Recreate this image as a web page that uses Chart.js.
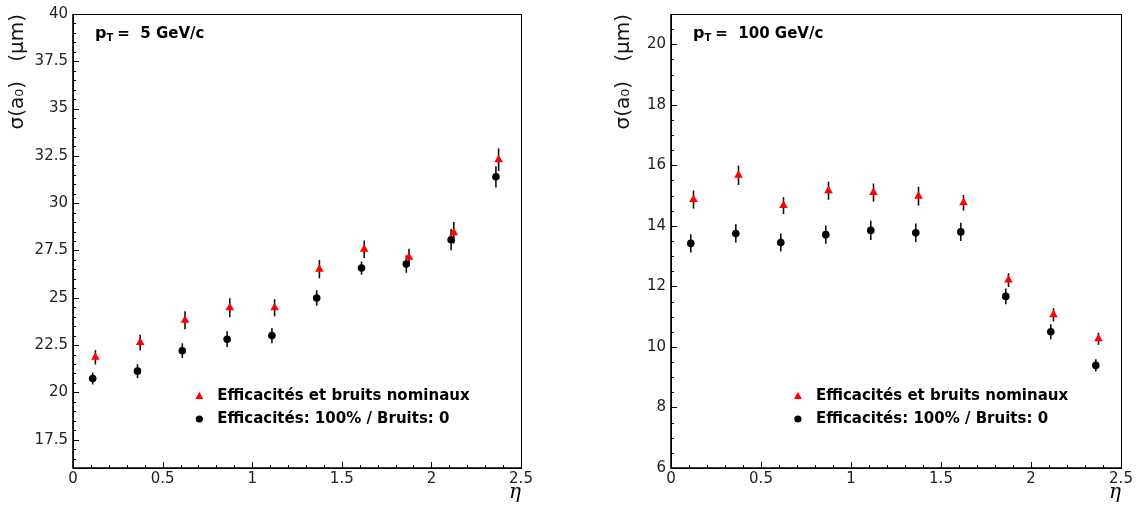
<!DOCTYPE html>
<html>
<head>
<meta charset="utf-8">
<script src="https://cdn.jsdelivr.net/npm/chart.js@4.4.0/dist/chart.umd.min.js"></script>
<style>
  html, body { margin: 0; padding: 0; background: #fff; }
  #wrap { position: relative; width: 1137px; height: 507px; }
  .box { position: absolute; top: 0; height: 507px; }
</style>
</head>
<body>
<div id="wrap">
  <div class="box" style="left:0;width:560px"><canvas id="c5"></canvas></div>
  <div class="box" style="left:596px;width:541px"><canvas id="c100"></canvas></div>
</div>
<script>
// pseudo-rapidité des points (les triangles sont légèrement décalés)
const etaRouge = [0.125, 0.375, 0.625, 0.875, 1.125, 1.375, 1.625, 1.875, 2.125, 2.375];
const etaNoir  = [0.11, 0.36, 0.61, 0.86, 1.11, 1.36, 1.61, 1.86, 2.11, 2.36];

// pT = 5 GeV/c
const sig5Rouge = [21.85, 22.63, 23.81, 24.47, 24.47, 26.51, 27.56, 27.14, 28.44, 32.30];
const err5Rouge = [0.38, 0.42, 0.47, 0.50, 0.45, 0.48, 0.46, 0.45, 0.57, 0.60];
const sig5Noir  = [20.73, 21.12, 22.20, 22.81, 23.00, 24.99, 26.57, 26.78, 28.07, 31.39];
const err5Noir  = [0.31, 0.37, 0.39, 0.42, 0.40, 0.41, 0.35, 0.46, 0.56, 0.56];

// pT = 100 GeV/c
const sig100Rouge = [14.87, 15.67, 14.67, 15.16, 15.10, 14.98, 14.76, 12.21, 11.06, 10.27];
const err100Rouge = [0.30, 0.32, 0.28, 0.30, 0.30, 0.31, 0.26, 0.23, 0.22, 0.20];
const sig100Noir  = [13.42, 13.75, 13.45, 13.71, 13.85, 13.77, 13.80, 11.67, 10.50, 9.39];
const err100Noir  = [0.30, 0.30, 0.30, 0.30, 0.32, 0.31, 0.30, 0.26, 0.25, 0.20];

// graduations
const ticksEta = [0, 0.5, 1, 1.5, 2, 2.5];
const ticks5   = [17.5, 20, 22.5, 25, 27.5, 30, 32.5, 35, 37.5, 40];
const ticks100 = [6, 8, 10, 12, 14, 16, 18, 20];

const legendeRouge = 'Efficacités et bruits nominaux';
const legendeNoir  = 'Efficacités: 100% / Bruits: 0';

const pts = (xs, ys) => xs.map((x, i) => ({ x, y: ys[i] }));

// barres d'erreur, cadre, petites graduations, étiquette pT et légende
const rootStyle = {
  id: 'rootStyle',
  beforeDatasetsDraw(chart) {
    const { ctx } = chart;
    const ys = chart.scales.y;
    ctx.save();
    ctx.strokeStyle = '#111';
    ctx.lineWidth = 1.6;
    chart.data.datasets.forEach((ds, i) => {
      const meta = chart.getDatasetMeta(i);
      ds.data.forEach((p, j) => {
        const px = meta.data[j].x;
        ctx.beginPath();
        ctx.moveTo(px, ys.getPixelForValue(p.y - ds.errs[j]));
        ctx.lineTo(px, ys.getPixelForValue(p.y + ds.errs[j]));
        ctx.stroke();
      });
    });
    ctx.restore();
  },
  afterDraw(chart, args, opts) {
    const { ctx, chartArea: a } = chart;
    const xs = chart.scales.x, ys = chart.scales.y;
    ctx.save();

    // cadre
    ctx.strokeStyle = '#000';
    ctx.lineWidth = 1;
    ctx.strokeRect(a.left + 0.5, a.top + 0.5, a.right - a.left, a.bottom - a.top);
    ctx.lineWidth = 1.6;
    ctx.beginPath();
    ctx.moveTo(a.left, a.top); ctx.lineTo(a.left, a.bottom); ctx.lineTo(a.right, a.bottom);
    ctx.stroke();

    // graduations vers l'intérieur
    ctx.lineWidth = 1;
    ctx.beginPath();
    for (let v = xs.min; v <= xs.max + 1e-9; v += opts.minorX) {
      const px = Math.round(xs.getPixelForValue(v)) + 0.5;
      const major = Math.abs(v / 0.5 - Math.round(v / 0.5)) < 1e-6;
      ctx.moveTo(px, a.bottom); ctx.lineTo(px, a.bottom - (major ? 6 : 3));
    }
    for (let v = ys.min; v <= ys.max + 1e-9; v += opts.minorY) {
      const py = Math.round(ys.getPixelForValue(v)) + 0.5;
      const major = Math.abs(v / opts.majorY - Math.round(v / opts.majorY)) < 1e-6;
      ctx.moveTo(a.left, py); ctx.lineTo(a.left + (major ? 6 : 3), py);
    }
    ctx.stroke();

    // étiquette pT
    ctx.fillStyle = '#000';
    ctx.textBaseline = 'alphabetic';
    let x = a.left + 22, y = a.top + 24;
    ctx.font = 'bold 16px "DejaVu Sans"';
    ctx.fillText('p', x, y);
    x += ctx.measureText('p').width;
    ctx.font = 'bold 10px "DejaVu Sans"';
    ctx.fillText('T', x, y + 3);
    x += ctx.measureText('T').width + 4;
    ctx.font = 'bold 15px "DejaVu Sans"';
    ctx.fillText('=  ' + opts.pt, x, y);

    // légende
    const lx = a.left + 0.282 * (a.right - a.left);
    const ly1 = 396, ly2 = 419;
    ctx.fillStyle = '#ff0000';
    ctx.beginPath();
    ctx.moveTo(lx, ly1 - 4); ctx.lineTo(lx + 4, ly1 + 3); ctx.lineTo(lx - 4, ly1 + 3);
    ctx.closePath(); ctx.fill();
    ctx.fillStyle = '#000';
    ctx.beginPath(); ctx.arc(lx, ly2, 3.6, 0, Math.PI * 2); ctx.fill();
    ctx.font = 'bold 15px "DejaVu Sans"';
    ctx.textBaseline = 'middle';
    ctx.fillText(legendeRouge, lx + 18, ly1);
    ctx.fillText(legendeNoir, lx + 18, ly2);
    ctx.restore();
  }
};

function makeChart(id, rouge, errRouge, noir, errNoir, yMin, yMax, yTicks, yw, titlePad, rightPad, extra) {
  return new Chart(document.getElementById(id), {
    type: 'scatter',
    data: {
      datasets: [
        { data: pts(etaRouge, rouge), errs: errRouge, pointStyle: 'triangle', pointRadius: 5,
          backgroundColor: '#ff0000', borderColor: '#ff0000', borderWidth: 0 },
        { data: pts(etaNoir, noir), errs: errNoir, pointStyle: 'circle', pointRadius: 3.8,
          backgroundColor: '#000', borderColor: '#000', borderWidth: 0 },
      ],
    },
    options: {
      responsive: true,
      maintainAspectRatio: false,
      animation: false,
      events: [],
      layout: { padding: { top: 10, right: rightPad, left: 0, bottom: 0 } },
      plugins: { legend: { display: false }, tooltip: { enabled: false }, rootStyle: extra },
      scales: {
        x: {
          type: 'linear', min: 0, max: 2.5,
          afterBuildTicks: s => { s.ticks = ticksEta.map(v => ({ value: v })); },
          afterFit: s => { s.height = 39; },
          grid: { display: false, drawTicks: false },
          border: { display: false },
          ticks: { padding: 2, color: '#222', font: { family: 'DejaVu Sans', size: 15 },
                   maxRotation: 0, callback: v => String(v) },
          title: { display: true, text: 'η', align: 'end', padding: { top: 0, bottom: 2 },
                   color: '#000', font: { family: 'DejaVu Serif', style: 'italic', size: 20 } },
        },
        y: {
          type: 'linear', min: yMin, max: yMax,
          afterBuildTicks: s => { s.ticks = yTicks.map(v => ({ value: v })); },
          afterFit: s => { s.width = yw; },
          grid: { display: false, drawTicks: false },
          border: { display: false },
          ticks: { padding: 5, color: '#222', font: { family: 'DejaVu Sans', size: 15 },
                   callback: v => String(v) },
          title: { display: true, text: 'σ(a₀)   (μm)', align: 'end', padding: { top: titlePad, bottom: 0 },
                   color: '#111', font: { family: 'DejaVu Sans', size: 20 } },
        },
      },
    },
    plugins: [rootStyle],
  });
}

makeChart('c5', sig5Rouge, err5Rouge, sig5Noir, err5Noir, 16, 40, ticks5, 73, 6, 39,
  { pt: '5 GeV/c', minorX: 0.1, minorY: 0.5, majorY: 2.5 });
makeChart('c100', sig100Rouge, err100Rouge, sig100Noir, err100Noir, 6, 21, ticks100, 75, 16, 16,
  { pt: '100 GeV/c', minorX: 0.1, minorY: 0.5, majorY: 2 });
</script>
</body>
</html>
